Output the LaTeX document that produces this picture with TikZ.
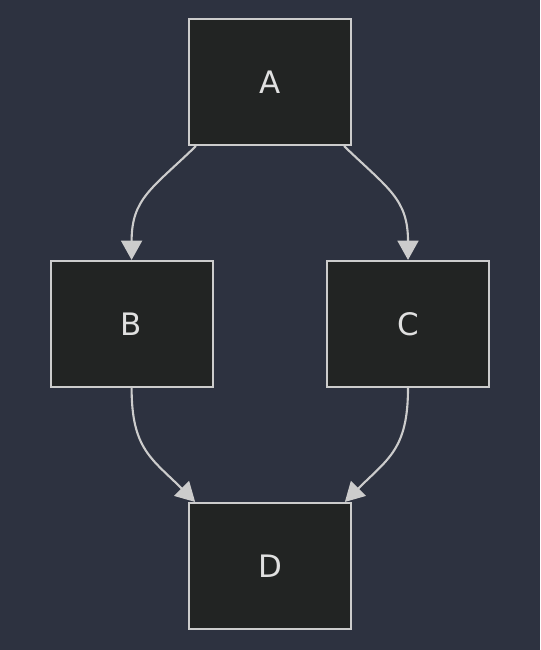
\documentclass[tikz,border=0pt]{standalone}
\usepackage{fontspec}
\setmainfont{DejaVu Sans}
\usetikzlibrary{arrows.meta,positioning}
\definecolor{bgcol}{HTML}{2D3240}
\definecolor{boxcol}{HTML}{222423}
\definecolor{linecol}{HTML}{CCCCCC}
\definecolor{txtcol}{HTML}{E0E0E0}
\begin{document}
\begin{tikzpicture}[>={Triangle[width=0.52cm,length=0.48cm,fill=linecol]},
 box/.style={draw=linecol,fill=boxcol,line width=1.5pt,minimum width=4.05cm,minimum height=3.15cm,
   text=txtcol,font=\fontsize{22}{26}\selectfont},
 edge/.style={->,draw=linecol,line width=1.5pt}]
\fill[bgcol] (0,0) rectangle (13.5,-16.25);
\useasboundingbox (0,0) rectangle (13.5,-16.25);
\node[box] (A) at (6.75,-2.05) {A};
\node[box] (B) at (3.29,-8.1) {B};
\node[box] (C) at (10.2,-8.1) {C};
\node[box] (D) at (6.75,-14.15) {D};
\draw[edge] ([xshift=0.2cm]A.south west) to[out=-136,in=90,looseness=1.2] (B.north);
\draw[edge] ([xshift=-0.2cm]A.south east) to[out=-44,in=90,looseness=1.2] (C.north);
\draw[edge] (B.south) to[out=-90,in=135,looseness=1.2] ([xshift=0.18cm]D.north west);
\draw[edge] (C.south) to[out=-90,in=45,looseness=1.2] ([xshift=-0.18cm]D.north east);
\end{tikzpicture}
\end{document}
